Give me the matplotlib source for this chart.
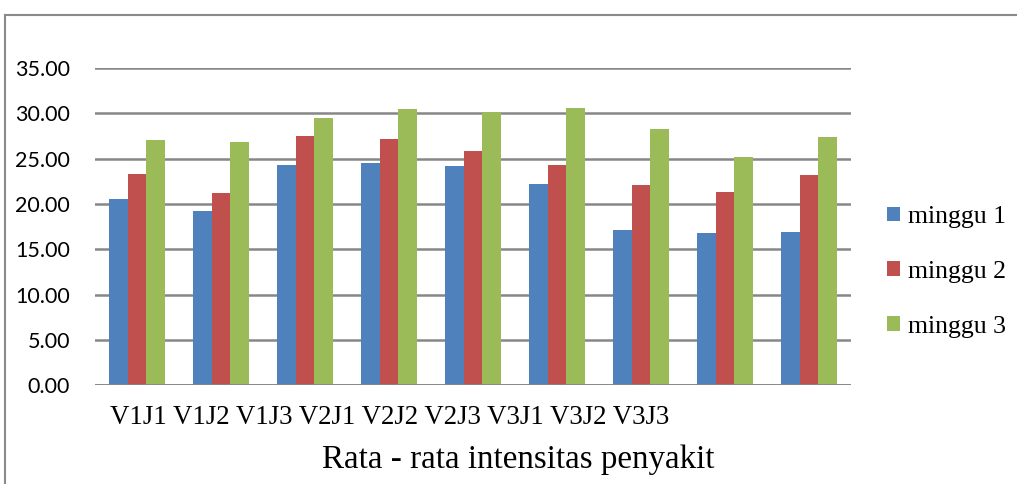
import matplotlib
matplotlib.use("Agg")
import matplotlib.pyplot as plt
from matplotlib.lines import Line2D
import numpy as np

categories = ["V1J1", "V1J2", "V1J3", "V2J1", "V2J2", "V2J3", "V3J1", "V3J2", "V3J3"]
series_names = ["minggu 1", "minggu 2", "minggu 3"]
minggu_1 = [20.56, 19.24, 24.31, 24.53, 24.20, 22.20, 17.14, 16.80, 16.90]
minggu_2 = [23.32, 21.23, 27.52, 27.19, 25.86, 24.31, 22.10, 21.33, 23.21]
minggu_3 = [27.07, 26.86, 29.50, 30.50, 30.17, 30.60, 28.30, 25.20, 27.40]
y_ticks = [0, 5, 10, 15, 20, 25, 30, 35]
x_title = "Rata - rata intensitas penyakit"

colors = ["#4F81BD", "#C0504D", "#9BBB59"]
serif = ["Liberation Serif", "DejaVu Serif"]
sans = ["Lato", "DejaVu Sans"]

W, H = 1017, 484
fig = plt.figure(figsize=(W / 100, H / 100), dpi=100)
ax = fig.add_axes([95 / W, 1 - 385.3 / H, (851 - 95) / W, (385.3 - 68) / H])

x = np.arange(len(categories))
bw = 0.226
for i, vals in enumerate([minggu_1, minggu_2, minggu_3]):
    ax.bar(x + (i - 1) * bw, vals, width=bw, color=colors[i],
           label=series_names[i], zorder=3)

ax.set_xlim(-0.5, len(categories) - 0.5)
ax.set_ylim(0, 35)
ax.set_yticks(y_ticks)
ax.set_yticklabels([f"{v:.2f}" for v in y_ticks], fontfamily=sans, fontsize=15.5)
ax.tick_params(axis="y", length=0, pad=18)
ax.set_xticks([])
ax.grid(axis="y", color="#878787", linewidth=1.8, zorder=0)
for s in ax.spines.values():
    s.set_visible(False)
ax.axhline(0, color="#878787", linewidth=2.0, zorder=4)

# category names run together as one line beneath the plot
fig.text(110 / W, 1 - 424 / H, " ".join(categories), ha="left", va="baseline",
         fontfamily=serif, fontsize=19.4)
fig.text(518 / W, 1 - 468 / H, x_title, ha="center", va="baseline",
         fontfamily=serif, fontsize=23.8)

leg = ax.legend(loc="center left", bbox_to_anchor=(887 / W, 1 - 272 / H),
                bbox_transform=fig.transFigure, frameon=False,
                prop={"family": serif, "size": 18.5}, handlelength=0.52,
                handleheight=0.52, handletextpad=0.3, labelspacing=1.28,
                borderpad=0, borderaxespad=0)

# outer frame of the chart area
fig.add_artist(Line2D([5 / W, 5 / W], [0, 1 - 15 / H], transform=fig.transFigure,
                      color="#8a8a8a", linewidth=1.5))
fig.add_artist(Line2D([5 / W, 1], [1 - 15 / H, 1 - 15 / H], transform=fig.transFigure,
                      color="#8a8a8a", linewidth=1.5))

fig.savefig("out.png", dpi=100)
